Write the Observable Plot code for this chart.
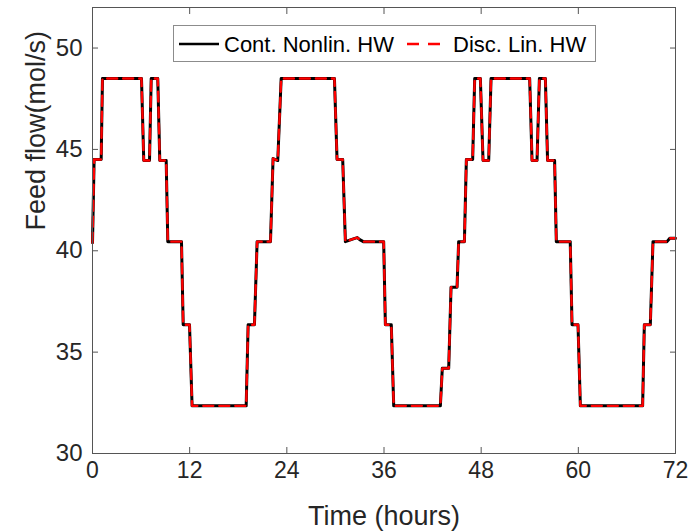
<!DOCTYPE html>
<html>
<head>
<meta charset="utf-8">
<script src="https://cdn.jsdelivr.net/npm/d3@7"></script>
<script src="https://cdn.jsdelivr.net/npm/@observablehq/plot@0.6"></script>
<style>
  html, body { margin: 0; padding: 0; background: #fff; }
  #wrap { position: relative; width: 694px; height: 531px; font-family: "Liberation Sans", Arial, Helvetica, sans-serif; }
  #legend { position: absolute; left: 173px; top: 25px; width: 421px; height: 35px; border: 1px solid #8c8c8c; background: #fff; }
</style>
</head>
<body>
<div id="wrap"><div id="chart"></div><div id="legend"></div></div>
<script>
// Time axis (hours) and feed flow (mol/s)
const timeHours = [0, 0.2, 1.07, 1.23, 6.05, 6.33, 7.04, 7.25, 8.06, 8.31, 9.1, 9.3, 10.99, 11.2, 11.98, 12.3, 18.98, 19.22, 20.0, 20.33, 21.98, 22.3, 22.88, 23.3, 29.88, 30.2, 30.9, 31.23, 32.3, 32.7, 33.0, 33.45, 35.96, 36.17, 36.9, 37.2, 42.96, 43.2, 43.99, 44.28, 45.02, 45.22, 45.93, 46.17, 46.95, 47.2, 47.9, 48.23, 48.93, 49.22, 53.99, 54.28, 54.9, 55.19, 55.93, 56.2, 57.07, 57.28, 59.0, 59.22, 59.96, 60.25, 67.94, 68.15, 68.89, 69.22, 70.95, 71.3, 72];
const contNonlinHW = [40.4, 44.5, 44.5, 48.5, 48.5, 44.45, 44.45, 48.5, 48.5, 44.45, 44.45, 40.45, 40.45, 36.35, 36.35, 32.35, 32.35, 36.35, 36.35, 40.45, 40.45, 44.55, 44.45, 48.5, 48.5, 44.5, 44.5, 40.45, 40.6, 40.65, 40.55, 40.45, 40.45, 36.35, 36.35, 32.35, 32.35, 34.2, 34.2, 38.2, 38.2, 40.45, 40.45, 44.5, 44.5, 48.5, 48.5, 44.45, 44.45, 48.5, 48.5, 44.45, 44.45, 48.5, 48.5, 44.45, 44.45, 40.45, 40.45, 36.35, 36.35, 32.35, 32.35, 36.35, 36.35, 40.45, 40.45, 40.62, 40.62];
const discLinHW = [40.4, 44.5, 44.5, 48.5, 48.5, 44.45, 44.45, 48.5, 48.5, 44.45, 44.45, 40.45, 40.45, 36.35, 36.35, 32.35, 32.35, 36.35, 36.35, 40.45, 40.45, 44.55, 44.45, 48.5, 48.5, 44.5, 44.5, 40.45, 40.6, 40.65, 40.55, 40.45, 40.45, 36.35, 36.35, 32.35, 32.35, 34.2, 34.2, 38.2, 38.2, 40.45, 40.45, 44.5, 44.5, 48.5, 48.5, 44.45, 44.45, 48.5, 48.5, 44.45, 44.45, 48.5, 48.5, 44.45, 44.45, 40.45, 40.45, 36.35, 36.35, 32.35, 32.35, 36.35, 36.35, 40.45, 40.45, 40.62, 40.62];
const xTicks = [0, 12, 24, 36, 48, 60, 72];
const yTicks = [30, 35, 40, 45, 50];
const seriesNames = ["Cont. Nonlin. HW", "Disc. Lin. HW"];
const xLabel = "Time (hours)";
const yLabel = "Feed flow(mol/s)";

const contData = timeHours.map((t, i) => ({t, v: contNonlinHW[i]}));
const discData = timeHours.map((t, i) => ({t, v: discLinHW[i]}));

const axisColor = "#262626";
const blank = () => "";

const chart = Plot.plot({
  width: 694,
  height: 531,
  marginLeft: 92,
  marginRight: 19,
  marginTop: 7,
  marginBottom: 78,
  style: {fontFamily: '"Liberation Sans", Arial, Helvetica, sans-serif', color: axisColor, background: "#fff", overflow: "visible"},
  x: {domain: [0, 72]},
  y: {domain: [30, 52]},
  marks: [
    Plot.line(contData, {x: "t", y: "v", stroke: "#000", strokeWidth: 3}),
    Plot.line(discData, {x: "t", y: "v", stroke: "#ff0000", strokeWidth: 2.4, strokeDasharray: "10,6"}),
    Plot.frame({stroke: "#555", strokeWidth: 1}),
    // labels
    Plot.axisX({ticks: xTicks, tickSize: 0, tickPadding: 8, fontSize: 23, label: null}),
    Plot.axisY({ticks: yTicks, tickSize: 0, tickPadding: 10, fontSize: 24, label: null}),
    // inward tick marks on all four sides
    Plot.axisX({ticks: xTicks, tickSize: 6, dy: -6, tickFormat: blank, label: null, stroke: "#555"}),
    Plot.axisX({anchor: "top", ticks: xTicks, tickSize: 6, dy: 6, tickFormat: blank, label: null, stroke: "#555"}),
    Plot.axisY({ticks: yTicks, tickSize: 6, dx: 6, tickFormat: blank, label: null, stroke: "#555"}),
    Plot.axisY({anchor: "right", ticks: yTicks, tickSize: 6, dx: -6, tickFormat: blank, label: null, stroke: "#555"}),
    Plot.text([xLabel], {text: d => d, frameAnchor: "bottom", dy: 71, lineAnchor: "bottom", fontSize: 27, fill: axisColor}),
    Plot.text([yLabel], {text: d => d, frameAnchor: "left", dx: -48, rotate: -90, lineAnchor: "bottom", fontSize: 27, fill: axisColor})
  ]
});
document.getElementById("chart").appendChild(chart);

// Legend (inside the plot area, like the reference)
const lg = d3.select("#legend").append("svg").attr("width", 421).attr("height", 35);
lg.append("line").attr("x1", 5).attr("x2", 45).attr("y1", 18).attr("y2", 18).attr("stroke", "#000").attr("stroke-width", 2.5);
lg.append("text").attr("x", 50).attr("y", 26).attr("font-size", 22).attr("fill", "#000").text(seriesNames[0]);
lg.append("line").attr("x1", 233).attr("x2", 266).attr("y1", 18).attr("y2", 18).attr("stroke", "#ff0000").attr("stroke-width", 2.5).attr("stroke-dasharray", "12,9");
lg.append("text").attr("x", 279).attr("y", 26).attr("font-size", 22).attr("fill", "#000").text(seriesNames[1]);
</script>
</body>
</html>
